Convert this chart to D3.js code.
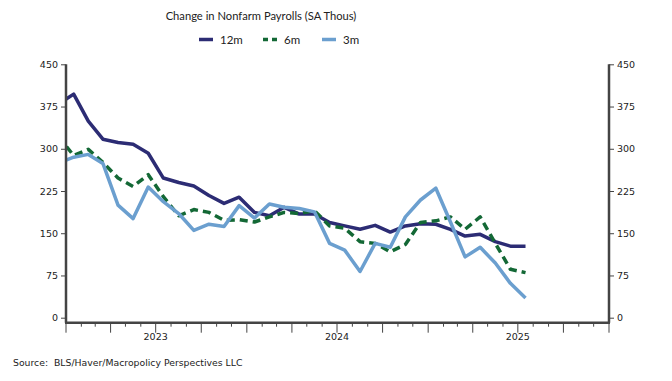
<!DOCTYPE html>
<html>
<head>
<meta charset="utf-8">
<script src="https://cdn.jsdelivr.net/npm/d3@7"></script>
<style>
  body { margin: 0; background: #fff; }
  svg { display: block; }
  .tick text { font-family: "DejaVu Sans", sans-serif; font-size: 9.5px; fill: #222; }
</style>
</head>
<body>
<svg width="672" height="381"></svg>
<script>
// monthly readings, Dec 2022 .. Jul 2025
var months = ["2022-12","2023-01","2023-02","2023-03","2023-04","2023-05","2023-06","2023-07",
  "2023-08","2023-09","2023-10","2023-11","2023-12","2024-01","2024-02","2024-03","2024-04",
  "2024-05","2024-06","2024-07","2024-08","2024-09","2024-10","2024-11","2024-12","2025-01",
  "2025-02","2025-03","2025-04","2025-05","2025-06","2025-07"];
var avg12m = [379, 397, 349, 317, 311, 308, 292, 248, 240, 234, 217, 203, 214, 187, 181, 196,
  184, 184, 169, 163, 157, 164, 152, 163, 167, 166, 157, 145, 148, 135, 127, 127];
var avg6m = [322, 288, 299, 276, 248, 233, 254, 215, 181, 192, 187, 173, 174, 170, 179, 187,
  185, 190, 163, 159, 135, 132, 117, 130, 169, 172, 179, 157, 179, 132, 86, 80];
var avg3m = [275, 285, 290, 274, 200, 176, 232, 206, 185, 155, 166, 162, 199, 177, 202, 196,
  194, 188, 132, 120, 82, 132, 125, 179, 209, 230, 170, 108, 125, 97, 61, 35];
var yTicks = [0, 75, 150, 225, 300, 375, 450];
var years = [2023, 2024, 2025];
var seriesNames = ["12m", "6m", "3m"];

var svg = d3.select("svg");
var plotLeft = 66, plotRight = 609, plotTop = 64.3, zero = 317.7, axisY = 322.7;

var parse = d3.timeParse("%Y-%m");
var x = d3.scaleTime()
    .domain([new Date(2023, 0, 1), new Date(2026, 0, 1)])
    .range([plotLeft, plotRight]);
var y = d3.scaleLinear().domain([0, 450]).range([zero, plotTop]);

// mid-month position
function midMonth(s) {
  var d = parse(s);
  return new Date((d.getTime() + d3.timeMonth.offset(d, 1).getTime()) / 2);
}

var series = [
  {name: seriesNames[0], values: avg12m, color: "#2c2c74", dash: null},
  {name: seriesNames[1], values: avg6m, color: "#136835", dash: "8,5"},
  {name: seriesNames[2], values: avg3m, color: "#6b9fcf", dash: null}
];

/* title */
svg.append("text")
    .attr("x", 261).attr("y", 20)
    .attr("text-anchor", "middle")
    .attr("font-family", "Lato, sans-serif")
    .attr("font-size", 11.2)
    .attr("fill", "#222")
    .text("Change in Nonfarm Payrolls (SA Thous)");

/* legend */
var legendX = [199, 263, 322];
var legend = svg.append("g").selectAll("g")
    .data(series)
    .enter().append("g")
      .attr("transform", function(d, i) { return "translate(" + legendX[i] + ",39.5)"; });
legend.append("line")
    .attr("x1", 0).attr("x2", 14)
    .attr("stroke", function(d) { return d.color; })
    .attr("stroke-width", 3.5)
    .attr("stroke-dasharray", function(d) { return d.dash ? "5,4" : null; });
legend.append("text")
    .attr("x", 21)
    .attr("dy", "0.35em")
    .attr("font-family", "Lato, sans-serif")
    .attr("font-size", 11.5)
    .attr("fill", "#222")
    .text(function(d) { return d.name; });

/* clip */
svg.append("clipPath").attr("id", "plot")
  .append("rect")
    .attr("x", plotLeft).attr("y", 0)
    .attr("width", plotRight - plotLeft).attr("height", 381);

var line = d3.line()
    .x(function(d) { return x(d.date); })
    .y(function(d) { return y(d.value); });

svg.append("g")
    .attr("clip-path", "url(#plot)")
  .selectAll("path")
  .data(series)
  .enter().append("path")
    .attr("fill", "none")
    .attr("stroke", function(d) { return d.color; })
    .attr("stroke-width", 3.5)
    .attr("stroke-linejoin", "round")
    .attr("stroke-dasharray", function(d) { return d.dash; })
    .attr("d", function(d) {
      return line(d.values.map(function(v, i) { return {date: midMonth(months[i]), value: v}; }));
    });

/* y axes */
var axisColor = "#444";
var yl = svg.append("g")
    .attr("transform", "translate(" + plotLeft + ",0)")
    .call(d3.axisLeft(y).tickValues(yTicks).tickSize(5).tickPadding(3));
var yr = svg.append("g")
    .attr("transform", "translate(" + plotRight + ",0)")
    .call(d3.axisRight(y).tickValues(yTicks).tickSize(5).tickPadding(3));
[yl, yr].forEach(function(g) {
  g.select(".domain").remove();
  g.selectAll(".tick line").attr("stroke", axisColor);
});
svg.append("line")
    .attr("x1", plotLeft).attr("x2", plotLeft)
    .attr("y1", plotTop).attr("y2", axisY)
    .attr("stroke", axisColor).attr("stroke-width", 2.5);
svg.append("line")
    .attr("x1", plotRight).attr("x2", plotRight)
    .attr("y1", plotTop).attr("y2", axisY)
    .attr("stroke", axisColor).attr("stroke-width", 2.5);

/* x axis */
var monthTicks = d3.timeMonth.range(new Date(2023, 0, 1), new Date(2026, 0, 2));
svg.append("g").selectAll("line")
    .data(monthTicks)
    .enter().append("line")
      .attr("x1", function(d) { return x(d); })
      .attr("x2", function(d) { return x(d); })
      .attr("y1", axisY)
      .attr("y2", function(d) { return d.getMonth() % 3 == 0 ? axisY + 10 : axisY + 4; })
      .attr("stroke", axisColor)
      .attr("stroke-width", 1);
svg.append("line")
    .attr("x1", plotLeft - 1).attr("x2", plotRight + 1)
    .attr("y1", axisY).attr("y2", axisY)
    .attr("stroke", axisColor).attr("stroke-width", 2.5);

svg.append("g").selectAll("text")
    .data(years)
    .enter().append("text")
      .attr("x", function(d) { return x(new Date(d, 6, 1)); })
      .attr("y", 340)
      .attr("text-anchor", "middle")
      .attr("font-family", "DejaVu Sans, sans-serif")
      .attr("font-size", 9.5)
      .attr("fill", "#222")
      .text(function(d) { return d; });

/* source */
svg.append("text")
    .attr("x", 13).attr("y", 366)
    .attr("font-family", "DejaVu Sans, sans-serif")
    .attr("font-size", 9.3)
    .attr("fill", "#222")
    .attr("xml:space", "preserve")
    .text("Source:  BLS/Haver/Macropolicy Perspectives LLC");
</script>
</body>
</html>
